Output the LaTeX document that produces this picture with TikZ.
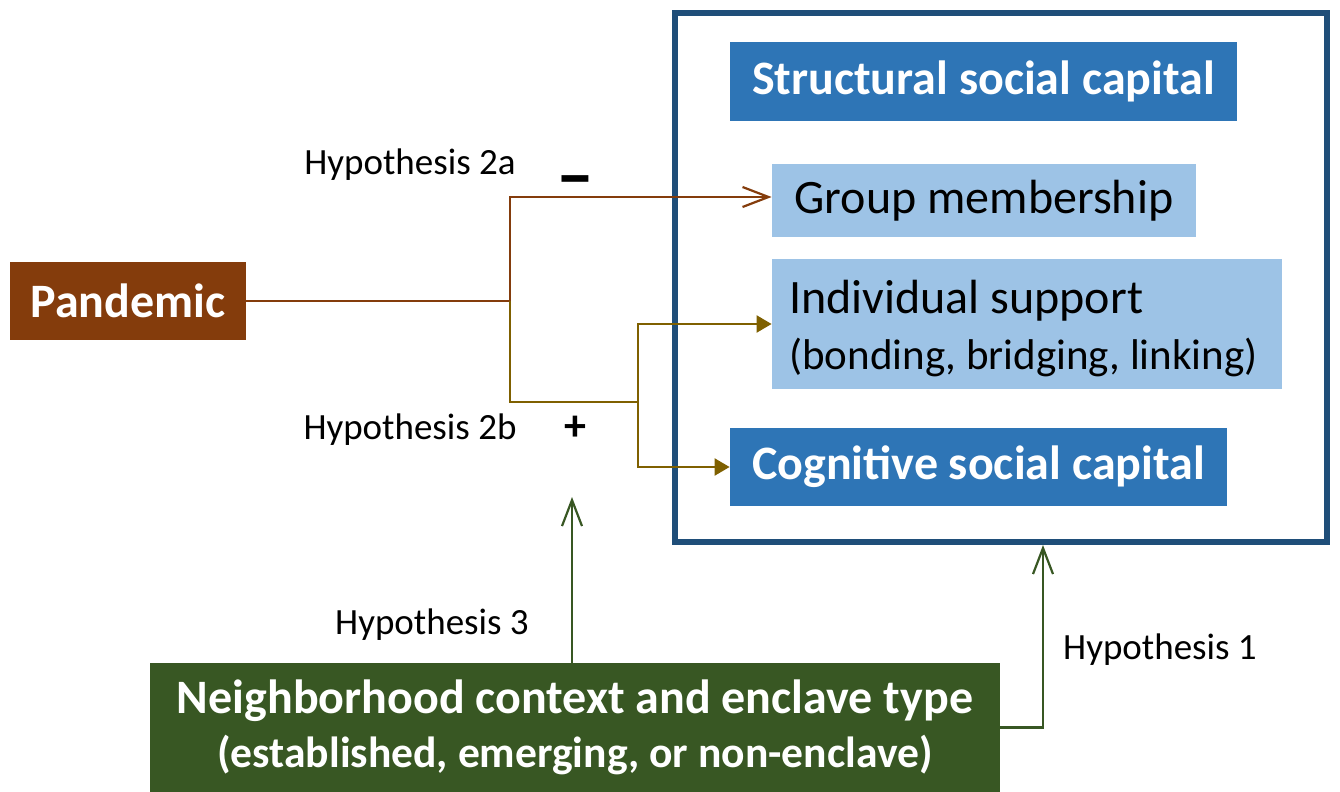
\documentclass[tikz,border=0pt]{standalone}
\usepackage{fontspec}
\setmainfont{Carlito}
\usetikzlibrary{arrows.meta}

\definecolor{pandbrown}{HTML}{843C0C}
\definecolor{hypolive}{HTML}{7F6000}
\definecolor{ctxgreen}{HTML}{385723}
\definecolor{framblue}{HTML}{1F4E79}
\definecolor{capblue}{HTML}{2E75B6}
\definecolor{itemblue}{HTML}{9DC3E6}

\tikzset{
  bigtext/.style={font=\fontsize{24}{26}\selectfont},
  darkbox/.style={bigtext, text=white, font=\fontsize{24}{26}\selectfont\bfseries, inner sep=0pt},
  itembox/.style={bigtext, fill=itemblue, text=black, inner sep=0pt},
  hyp/.style={font=\fontsize{18.5}{20}\selectfont, inner sep=0pt},
  pandline/.style={draw=pandbrown, line width=1.1pt},
  oliveline/.style={draw=hypolive, line width=1.1pt},
  ctxline/.style={draw=ctxgreen, line width=1.1pt},
  openhead/.style={-{Straight Barb[length=13pt,width=10pt]}},
  fullhead/.style={-{Triangle[length=7.5pt,width=8.5pt]}},
}

\begin{document}
\begin{tikzpicture}[x=0.5pt,y=-0.5pt]
			\useasboundingbox (0,0) rectangle (1340,792);
			% boxes
			\node[darkbox, fill=pandbrown, minimum width=118pt, minimum height=39pt] (pand) at (128,301) {Pandemic};
			\node[draw=framblue, line width=3pt, minimum width=326pt, minimum height=264.5pt] (frame) at (1001,277.5) {};
			\node[darkbox, fill=capblue, minimum width=253.5pt, minimum height=39.5pt] (struct) at (983.5,81.5) {Structural social capital};
			\node[itembox, minimum width=212pt, minimum height=36.5pt] (group) at (984,200.5) {Group membership};
			\node[itembox, minimum width=255pt, minimum height=65pt] (indiv) at (1027,324) {\begin{tabular}{@{}l@{\hspace{3.5pt}}}\rule{0pt}{25pt}Individual support\\[2pt]{\fontsize{21.5}{24}\selectfont(bonding, bridging, linking)}\end{tabular}};
			\node[darkbox, fill=capblue, minimum width=248.5pt, minimum height=39pt] (cog) at (978.5,467) {Cognitive social capital};
			\node[darkbox, fill=ctxgreen, minimum width=425pt, minimum height=64.5pt, align=center] (neigh) at (575,727.5) {Neighborhood context and enclave type\\[1pt]{\fontsize{21.8}{24}\selectfont(established, emerging, or non-enclave)}};
			% junction points
			\coordinate (j1) at (510,197);
			\coordinate (j2) at (510,402);
			\coordinate (j3) at (638,402);
			\coordinate (h3tip) at (572,497);
			\coordinate (h1tip) at (1043,545);
			% connectors
			\draw[pandline, openhead] (pand.east) -| (j1) -- (j1 -| group.west);
			\draw[oliveline] (pand.east -| j2) -- (j2) -- (j3);
			\draw[oliveline, fullhead] (j3) |- (indiv.west);
			\draw[oliveline, fullhead] (j3) |- (cog.west);
			\draw[ctxline, openhead] (h3tip |- neigh.north) -- (h3tip);
			\draw[ctxline, openhead] (neigh.east) -| (h1tip);
			% labels
			\node[hyp] (h2a) at (410,165) {Hypothesis 2a};
			\node[hyp, font=\fontsize{38}{40}\selectfont\bfseries] (minus) at (575,188) {--};
			\node[hyp] (h2b) at (410,430) {Hypothesis 2b};
			\node[hyp, font=\fontsize{22}{24}\selectfont\bfseries] (plus) at (575,428) {+};
			\node[hyp] (h3) at (432,625) {Hypothesis 3};
			\node[hyp] (h1) at (1160,650) {Hypothesis 1};
		\end{tikzpicture}
\end{document}
